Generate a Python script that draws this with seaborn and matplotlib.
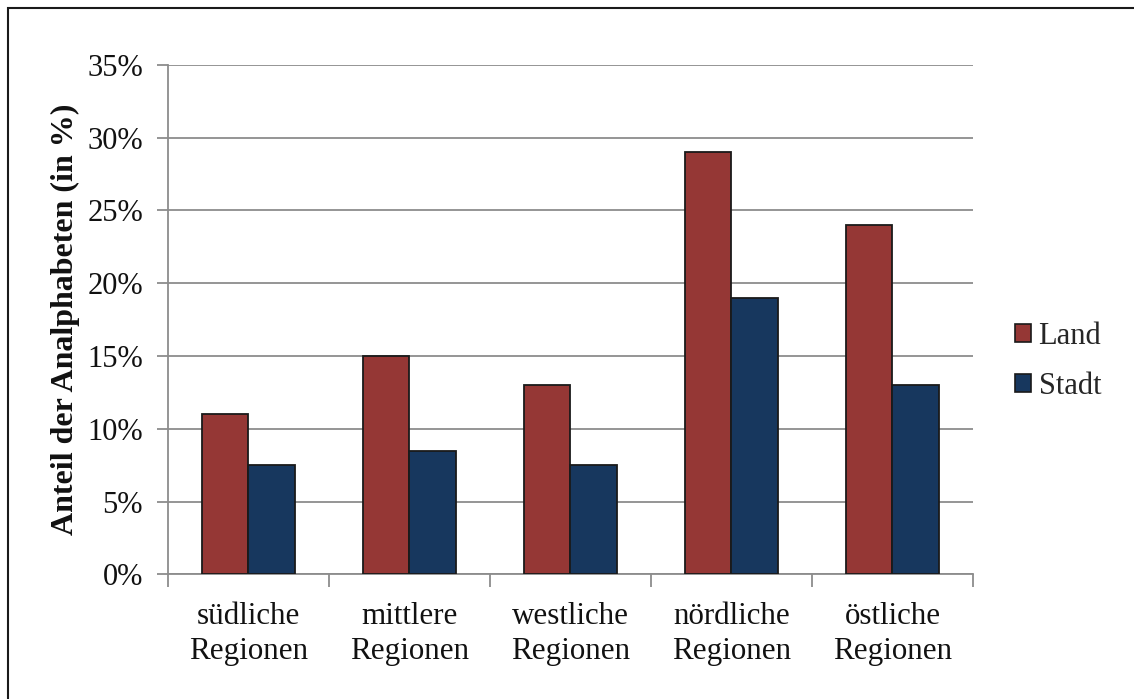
import matplotlib
matplotlib.use("Agg")
import matplotlib.pyplot as plt
from matplotlib.patches import Rectangle
from matplotlib.ticker import FuncFormatter, MultipleLocator, FixedLocator
import seaborn as sns
import pandas as pd

# Data
regionen = ["südliche\nRegionen", "mittlere\nRegionen", "westliche\nRegionen",
            "nördliche\nRegionen", "östliche\nRegionen"]
land = [11, 15, 13, 29, 24]
stadt = [7.5, 8.5, 7.5, 19, 13]
serien = ["Land", "Stadt"]
farben = ["#953735", "#17375E"]

df = pd.DataFrame({
    "Region": regionen * 2,
    "Anteil": land + stadt,
    "Gebiet": [serien[0]] * len(regionen) + [serien[1]] * len(regionen),
})

sns.set_theme(style="white")
plt.rcParams["font.family"] = ["Liberation Serif", "DejaVu Serif"]

fig = plt.figure(figsize=(11.34, 6.99), dpi=100)
ax = fig.add_axes([0.1481, 0.1784, 0.7099, 0.7290])

sns.barplot(data=df, x="Region", y="Anteil", hue="Gebiet", palette=farben,
            width=0.575, edgecolor="#1a1a1a", linewidth=1.3, saturation=1,
            ax=ax, zorder=3)

# Axes styling
ax.set_ylim(0, 35)
ax.set_xlim(-0.5, len(regionen) - 0.5)
ax.yaxis.set_major_locator(MultipleLocator(5))
ax.yaxis.set_major_formatter(FuncFormatter(lambda v, _: f"{v:.0f}%"))
ax.yaxis.grid(True, color="#8c8c8c", linewidth=1.3, zorder=0)
ax.set_axisbelow(True)

for side in ["top", "right"]:
    ax.spines[side].set_visible(False)
for side in ["left", "bottom"]:
    ax.spines[side].set_color("#8c8c8c")
    ax.spines[side].set_linewidth(1.3)

ax.tick_params(axis="y", which="major", length=8, width=1.3, color="#8c8c8c",
               labelsize=22, pad=10, left=True)
ax.tick_params(axis="x", which="major", length=0, labelsize=22.3, pad=20)
ax.xaxis.set_minor_locator(FixedLocator([i - 0.5 for i in range(len(regionen) + 1)]))
ax.tick_params(axis="x", which="minor", length=9, width=1.3, color="#8c8c8c",
               bottom=True)
for lbl in ax.get_xticklabels():
    lbl.set_linespacing(1.28)
    lbl.set_color("#111111")
for lbl in ax.get_yticklabels():
    lbl.set_color("#111111")

ax.set_xlabel("")
ax.set_ylabel("Anteil der Analphabeten (in %)", fontsize=23, fontweight="bold",
              color="#111111", labelpad=5.5)

# Legend
handles, labels = ax.get_legend_handles_labels()
leg = ax.legend(handles, labels, loc="center left", bbox_to_anchor=(1.037, 0.418),
                frameon=False, fontsize=22, handlelength=0.52, handleheight=0.52,
                handletextpad=0.25, labelspacing=0.68, borderaxespad=0)
for h in leg.legend_handles:
    h.set_edgecolor("#1a1a1a")
    h.set_linewidth(1.2)

# Chart frame (its right and bottom edges lie outside the canvas)
fig.patches.append(Rectangle((8 / 1134, -0.1), 1.2, 1.1 - 8 / 699,
                             transform=fig.transFigure, fill=False,
                             edgecolor="#1a1a1a", linewidth=1.5))

fig.savefig("out.png", dpi=100, facecolor="white")
